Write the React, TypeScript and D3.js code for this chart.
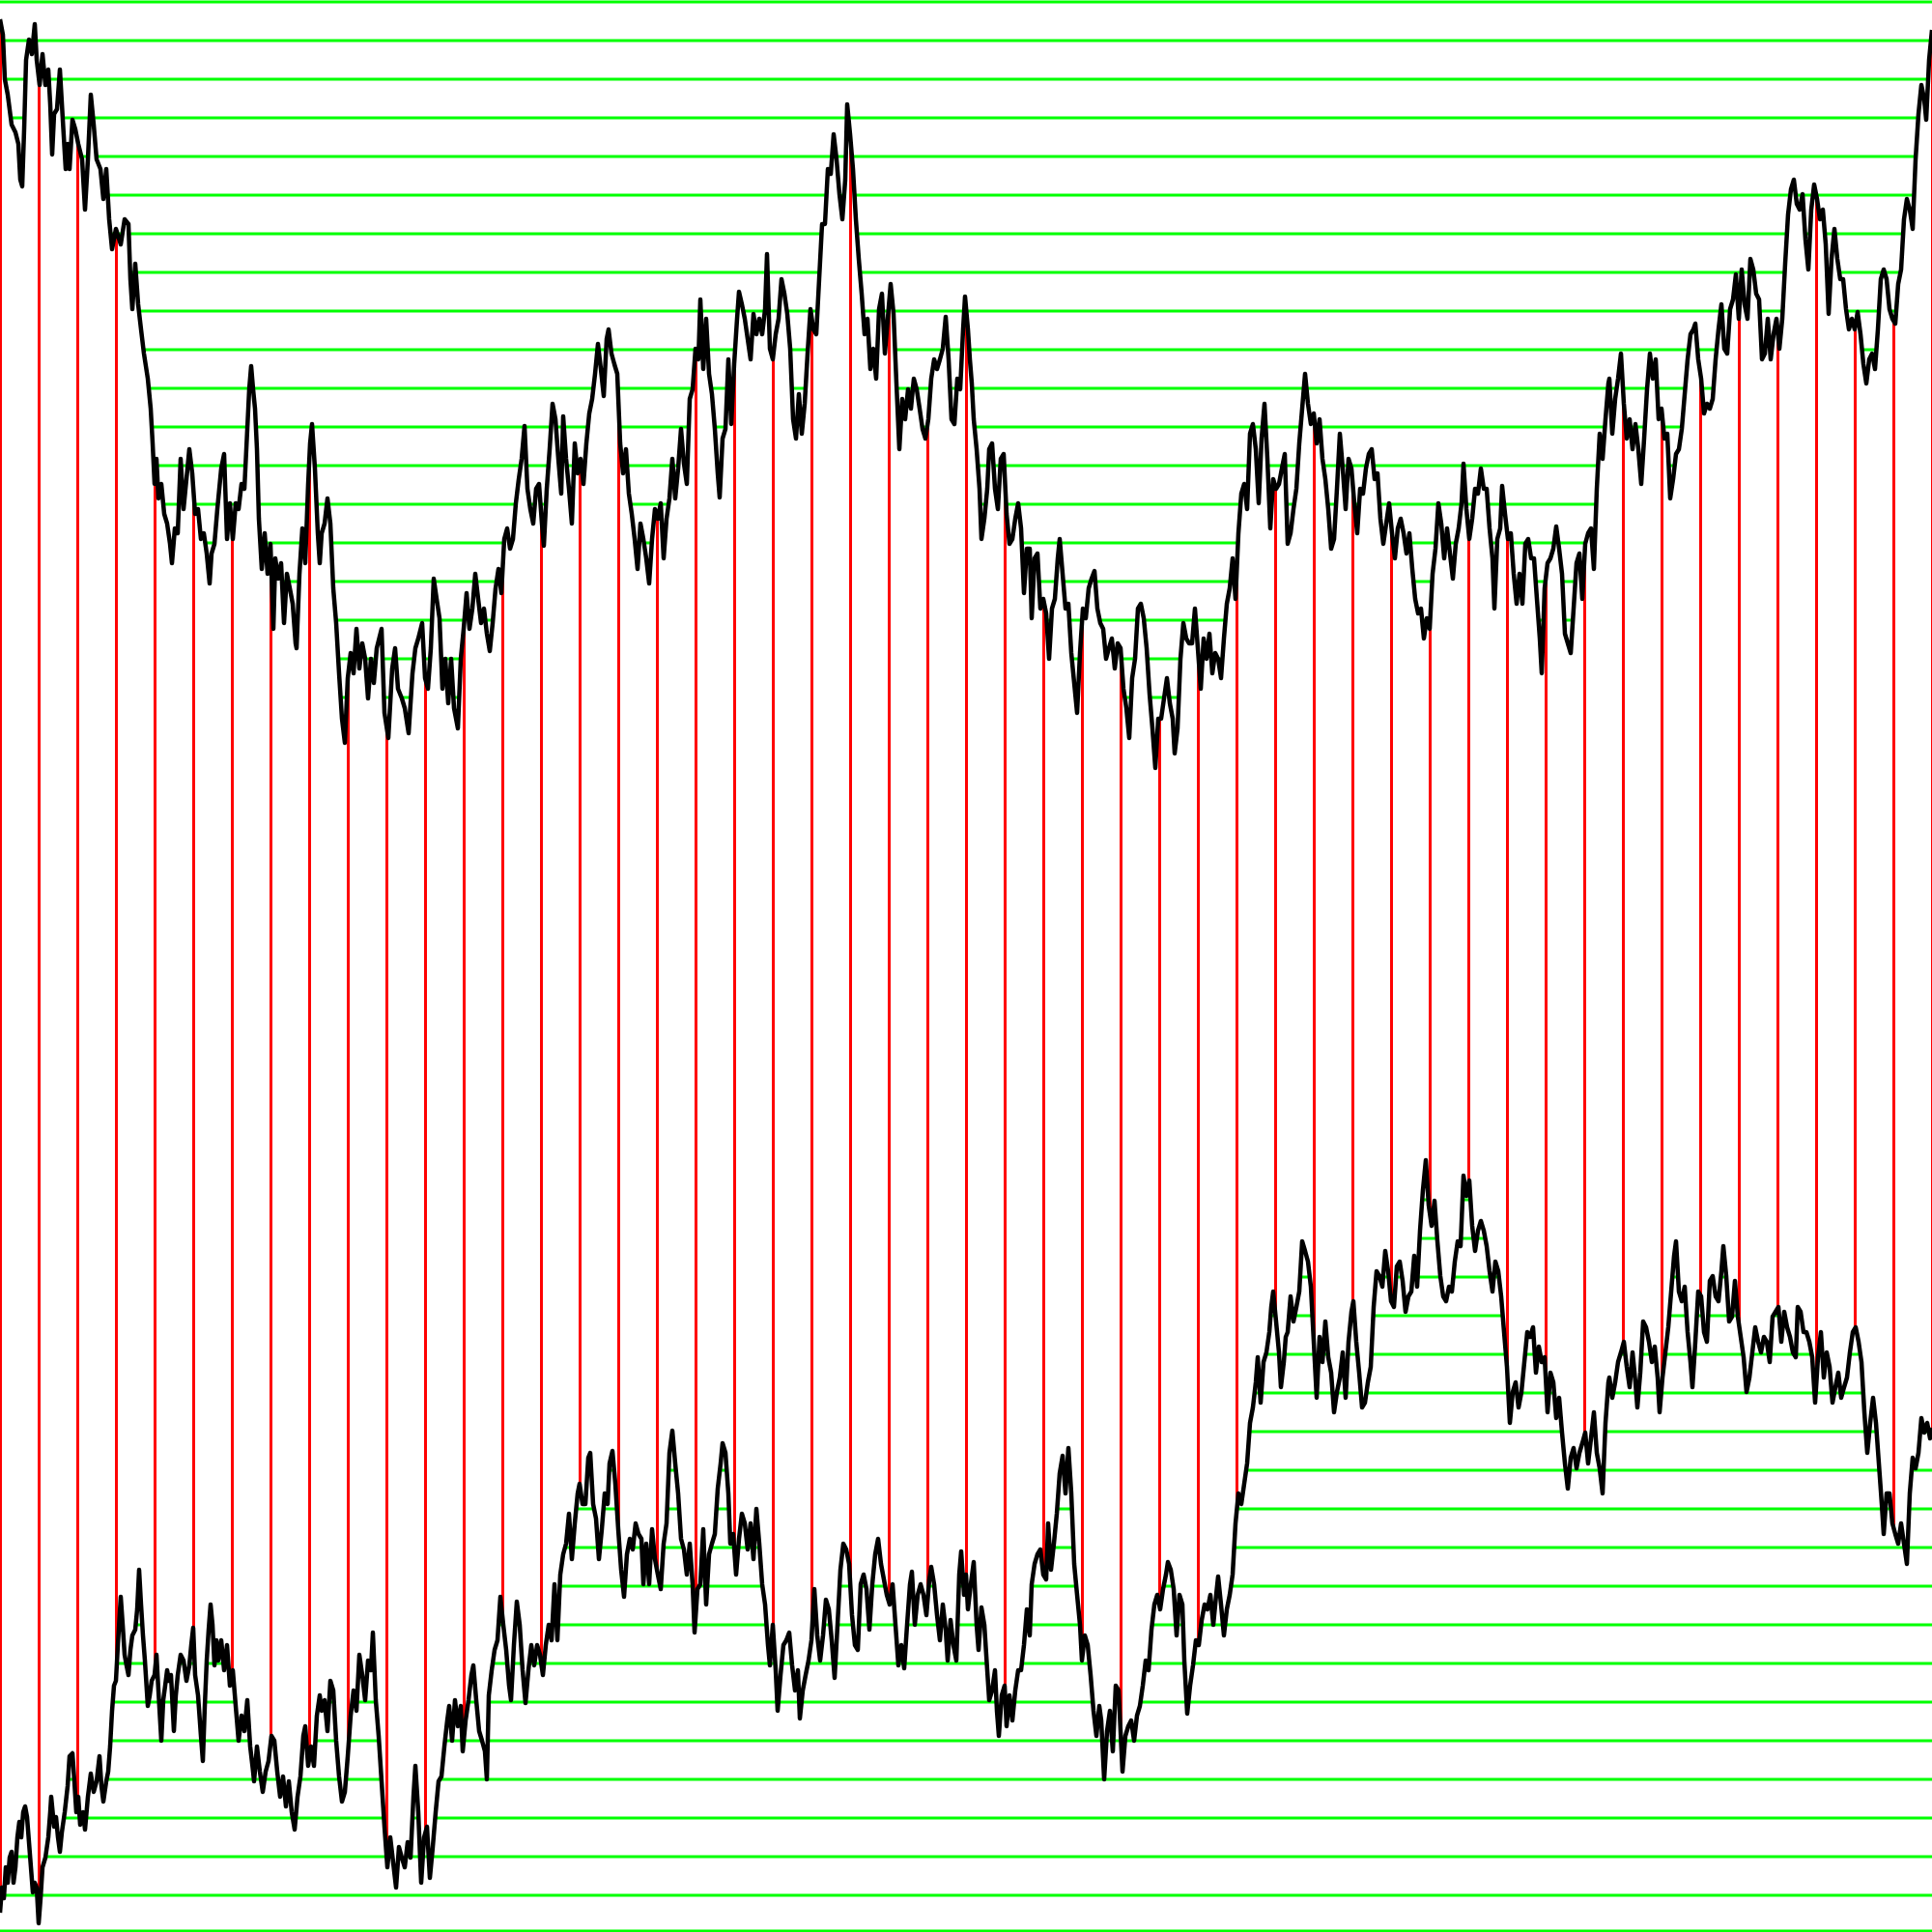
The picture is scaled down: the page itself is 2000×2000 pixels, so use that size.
import React from 'react';
import * as d3 from 'd3';

// Upper random-walk series: [x, y] in chart units (0..2000, y grows downward)
const upperSeries: [number, number][] = [
  [0,20],[3,36],[5,82],[8,98],[12,129],[16,137],[19,149],[21,186],[23,193],[25,134],[27,62],[30,41],[33,56],[36,25],[38,62],[41,88],[44,56],[47,88],[50,72],[52,108],[54,160],[56,118],[59,113],[62,72],[65,124],[68,175],[70,149],[72,175],[75,124],[78,134],[81,149],[85,165],[88,217],[91,165],[94,98],[97,129],[100,165],[104,175],[107,206],[110,175],[113,227],[116,258],[120,237],[125,253],[129,227],[133,232],[135,289],[137,320],[140,273],[143,315],[146,341],[149,366],[153,392],[156,423],[158,459],[160,501],[162,475],[164,516],[167,501],[170,532],[173,542],[176,563],[178,583],[181,547],[184,552],[187,475],[190,527],[193,496],[196,465],[199,490],[202,532],[205,527],[208,558],[211,552],[214,573],[217,604],[219,573],[222,563],[225,527],[229,485],[232,470],[235,558],[238,521],[241,558],[244,521],[247,527],[250,501],[253,506],[255,465],[258,403],[260,379],[262,403],[264,423],[266,465],[268,537],[271,589],[274,552],[277,594],[280,563],[283,651],[285,578],[288,599],[291,583],[294,645],[297,594],[300,609],[303,625],[306,666],[307,671],[310,594],[313,547],[316,583],[319,501],[321,459],[323,439],[326,485],[329,552],[331,583],[333,552],
  [336,542],[339,516],[342,542],[345,609],[348,645],[351,697],[354,744],[357,769],[360,702],[363,676],[366,697],[369,651],[372,692],[375,666],[378,682],[381,723],[384,682],[387,707],[390,671],[395,651],[398,738],[402,764],[406,692],[409,671],[412,713],[416,723],[419,733],[423,759],[427,697],[430,671],[433,661],[437,645],[440,702],[443,713],[446,671],[449,599],[452,620],[455,640],[458,713],[461,682],[464,728],[467,682],[470,733],[474,754],[477,682],[480,651],[483,614],[486,651],[489,630],[492,594],[495,620],[498,645],[501,630],[504,656],[507,674],[510,645],[513,609],[516,589],[519,614],[522,558],[525,547],[528,568],[531,558],[534,521],[537,496],[540,475],[543,441],[546,506],[549,527],[552,542],[555,506],[558,501],[561,542],[563,565],[566,506],[569,465],[572,418],[575,434],[578,475],[581,511],[583,431],[586,475],[589,506],[592,542],[595,459],[598,490],[601,475],[604,501],[607,459],[610,428],[613,413],[616,387],[619,356],[622,382],[625,410],[628,351],[630,341],[633,366],[636,377],[639,387],[642,459],[645,490],[648,465],[651,511],[654,532],[657,558],[660,589],[663,542],[666,558],
  [669,578],[672,604],[675,558],[678,527],[681,537],[684,521],[687,578],[690,537],[693,516],[696,475],[699,516],[702,485],[705,444],[708,480],[711,501],[714,413],[717,403],[720,361],[723,372],[725,310],[728,382],[731,330],[734,387],[737,408],[740,444],[743,490],[745,515],[748,454],[751,444],[754,372],[757,439],[760,377],[763,330],[765,302],[768,315],[771,330],[774,351],[777,372],[780,325],[783,346],[786,330],[789,346],[792,320],[794,263],[797,361],[800,372],[803,346],[806,330],[809,289],[812,304],[815,325],[818,361],[821,434],[824,454],[827,408],[830,449],[833,418],[836,366],[839,320],[842,341],[845,346],[848,289],[851,232],[854,232],[857,175],[860,180],[863,139],[866,165],[869,201],[872,227],[875,186],[877,108],[880,139],[883,175],[886,227],[889,268],[892,304],[895,346],[898,330],[901,382],[904,361],[907,392],[910,320],[913,304],[916,366],[919,330],[922,294],[925,325],[928,397],[931,465],[934,413],[937,434],[940,403],[943,423],[946,392],[949,403],[952,423],[955,444],[958,454],[961,434],[964,392],[967,372],[970,382],[973,372],[976,361],[979,328],[982,372],[985,434],[988,439],[991,392],[994,403],[997,341],[999,307],
  [1002,341],[1004,372],[1006,397],[1008,434],[1011,465],[1014,506],[1016,558],[1019,537],[1022,506],[1024,465],[1027,459],[1030,506],[1033,527],[1036,475],[1039,470],[1042,532],[1045,563],[1048,558],[1051,537],[1054,521],[1057,547],[1060,614],[1063,568],[1066,568],[1068,640],[1071,578],[1074,573],[1077,630],[1080,620],[1083,635],[1086,682],[1089,630],[1092,620],[1095,578],[1097,558],[1100,594],[1103,630],[1106,625],[1109,676],[1112,707],[1115,738],[1118,676],[1121,630],[1124,640],[1127,609],[1130,599],[1133,591],[1136,630],[1139,645],[1142,651],[1145,682],[1148,671],[1151,661],[1154,692],[1157,666],[1160,671],[1163,713],[1166,733],[1169,764],[1172,702],[1175,682],[1178,630],[1181,625],[1184,640],[1187,671],[1190,718],[1193,754],[1196,795],[1199,744],[1202,744],[1205,723],[1208,702],[1211,728],[1214,744],[1216,780],[1219,754],[1222,682],[1225,645],[1228,661],[1231,666],[1234,666],[1237,630],[1240,671],[1243,713],[1246,661],[1249,682],[1252,656],[1255,697],[1258,676],[1261,682],[1264,702],[1267,661],[1270,625],[1273,609],[1276,578],[1279,620],[1282,552],[1285,511],[1288,501],[1291,527],[1294,449],[1297,439],[1300,465],[1303,521],[1306,454],[1309,418],[1312,475],[1315,547],[1318,496],[1321,506],[1324,501],[1327,485],[1330,470],[1333,563],
  [1336,552],[1339,527],[1342,506],[1345,459],[1348,423],[1351,387],[1354,418],[1357,439],[1360,428],[1363,459],[1366,434],[1369,475],[1372,496],[1375,527],[1378,568],[1381,558],[1384,506],[1387,449],[1390,485],[1393,527],[1396,475],[1399,485],[1402,521],[1405,552],[1408,506],[1411,511],[1414,485],[1417,470],[1420,465],[1423,496],[1426,490],[1429,537],[1432,563],[1435,542],[1438,521],[1441,552],[1444,578],[1447,547],[1450,537],[1453,552],[1456,573],[1459,552],[1462,589],[1465,620],[1468,635],[1471,630],[1474,661],[1477,640],[1480,651],[1483,594],[1486,568],[1489,521],[1492,542],[1495,578],[1498,547],[1501,573],[1504,599],[1507,563],[1510,547],[1513,521],[1515,480],[1518,527],[1521,558],[1524,537],[1527,506],[1530,511],[1533,485],[1536,506],[1539,506],[1542,547],[1545,578],[1547,630],[1550,558],[1553,547],[1555,503],[1558,532],[1561,558],[1564,552],[1567,594],[1570,625],[1573,594],[1576,625],[1579,563],[1582,558],[1585,578],[1588,578],[1591,620],[1594,661],[1596,697],[1599,609],[1602,583],[1605,578],[1608,568],[1611,545],[1614,568],[1617,594],[1620,656],[1623,666],[1626,676],[1629,630],[1632,583],[1635,573],[1638,620],[1641,563],[1644,552],[1647,547],[1650,589],[1653,506],[1656,449],[1659,475],[1662,434],[1665,397],
  [1666,392],[1669,449],[1672,413],[1675,392],[1678,366],[1681,418],[1684,454],[1687,434],[1690,465],[1693,439],[1696,465],[1699,501],[1702,454],[1705,403],[1708,366],[1711,392],[1714,372],[1717,434],[1720,423],[1723,454],[1726,449],[1729,516],[1732,496],[1735,470],[1738,465],[1741,444],[1744,408],[1747,372],[1750,346],[1753,341],[1755,335],[1758,372],[1761,392],[1764,428],[1767,418],[1770,423],[1773,413],[1776,372],[1779,341],[1782,315],[1785,361],[1788,366],[1791,320],[1794,310],[1797,284],[1800,330],[1803,279],[1806,315],[1809,330],[1812,268],[1815,279],[1818,304],[1821,310],[1824,372],[1827,366],[1830,330],[1833,372],[1836,346],[1839,330],[1842,361],[1845,330],[1848,273],[1851,222],[1854,196],[1857,186],[1860,211],[1863,217],[1866,201],[1869,248],[1872,279],[1875,217],[1878,191],[1881,206],[1884,227],[1887,217],[1890,253],[1893,325],[1896,268],[1899,237],[1902,268],[1905,289],[1908,289],[1911,320],[1914,341],[1917,330],[1920,341],[1923,323],[1926,346],[1929,377],[1932,397],[1935,372],[1938,366],[1941,382],[1944,341],[1947,289],[1950,279],[1953,289],[1956,320],[1959,330],[1962,335],[1965,294],[1968,279],[1971,227],[1974,206],[1977,217],[1980,237],[1983,165],[1986,118],[1989,88],[1992,103],[1994,124],[1997,62],[2000,31]
];

// Lower random-walk series: [x, y]
const lowerSeries: [number, number][] = [
  [0,1980],[2,1954],[4,1965],[6,1933],[8,1949],[10,1923],[12,1917],[14,1949],[16,1933],[18,1902],[20,1886],[22,1902],[24,1876],[26,1870],[28,1881],[30,1907],[32,1933],[34,1959],[36,1949],[38,1954],[40,1991],[42,1965],[44,1933],[47,1923],[50,1902],[52,1876],[53,1860],[56,1891],[58,1881],[60,1902],[62,1917],[64,1897],[67,1876],[70,1849],[72,1818],[75,1815],[77,1844],[79,1876],[81,1860],[83,1889],[86,1876],[88,1894],[91,1860],[94,1836],[97,1855],[100,1844],[103,1818],[105,1849],[107,1865],[110,1844],[112,1834],[114,1808],[116,1771],[118,1745],[120,1740],[122,1703],[125,1653],[127,1682],[129,1713],[131,1724],[133,1734],[135,1708],[137,1693],[140,1687],[142,1666],[144,1625],[146,1661],[148,1693],[150,1719],[153,1766],[155,1755],[157,1740],[160,1734],[162,1713],[164,1750],[167,1802],[169,1760],[171,1745],[173,1729],[175,1740],[177,1734],[180,1792],[182,1755],[184,1734],[187,1713],[190,1719],[193,1740],[196,1724],[198,1703],[200,1685],[202,1734],[205,1755],[208,1797],[210,1823],[212,1766],[214,1719],[216,1687],[218,1661],[220,1682],[222,1724],[224,1698],[226,1719],[229,1698],[232,1729],[235,1703],[238,1745],[241,1729],[244,1766],[247,1802],[250,1776],[253,1792],[256,1760],[259,1808],[262,1834],[263,1844],[266,1808],[269,1834],[272,1855],[275,1834],[278,1823],[281,1797],[284,1802],[287,1834],[290,1860],[293,1839],[296,1870],[299,1844],[302,1876],[305,1894],[308,1860],[311,1839],[314,1797],[316,1787],[319,1828],[322,1808],[325,1828],[328,1776],[331,1755],[333,1771],
  [336,1760],[339,1792],[342,1740],[345,1750],[348,1802],[351,1839],[354,1865],[357,1855],[360,1818],[363,1776],[366,1750],[369,1771],[372,1713],[375,1734],[378,1760],[381,1719],[384,1729],[386,1690],[389,1760],[392,1797],[395,1844],[398,1891],[401,1933],[404,1902],[407,1928],[410,1954],[413,1912],[416,1923],[419,1933],[422,1907],[425,1923],[428,1860],[430,1828],[433,1876],[436,1949],[439,1902],[442,1891],[445,1944],[448,1912],[451,1876],[454,1844],[457,1839],[460,1808],[463,1781],[465,1766],[468,1802],[471,1760],[474,1787],[477,1766],[479,1813],[482,1781],[485,1760],[488,1734],[490,1724],[493,1760],[496,1792],[499,1802],[502,1813],[504,1842],[506,1755],[509,1729],[512,1708],[515,1698],[518,1653],[521,1682],[524,1708],[527,1745],[529,1760],[532,1703],[535,1658],[538,1682],[541,1729],[544,1763],[547,1729],[550,1703],[553,1724],[556,1703],[559,1713],[562,1734],[565,1703],[568,1682],[571,1698],[574,1640],[577,1698],[580,1630],[583,1609],[586,1598],[589,1567],[592,1614],[595,1577],[598,1546],[600,1536],[603,1557],[606,1557],[609,1509],[611,1504],[614,1557],[617,1572],[620,1614],[623,1583],[626,1546],[629,1557],[631,1515],[634,1502],[637,1536],[640,1583],[643,1625],[646,1653],[649,1609],[652,1593],[655,1604],[658,1577],[661,1588],[664,1593],[666,1640],
  [669,1598],[672,1640],[675,1583],[678,1614],[681,1630],[684,1645],[687,1598],[690,1577],[693,1504],[696,1481],[699,1515],[702,1546],[705,1593],[708,1604],[711,1630],[714,1598],[717,1640],[719,1690],[722,1645],[725,1640],[728,1583],[731,1661],[734,1609],[737,1598],[740,1588],[743,1541],[746,1515],[748,1494],[751,1504],[754,1546],[756,1598],[759,1588],[762,1630],[765,1593],[768,1567],[771,1577],[774,1604],[777,1577],[780,1614],[783,1562],[786,1598],[789,1640],[792,1661],[795,1703],[797,1724],[800,1682],[803,1729],[805,1771],[808,1734],[811,1703],[814,1698],[817,1690],[820,1724],[823,1750],[826,1729],[828,1779],[831,1750],[834,1734],[837,1719],[840,1698],[843,1645],[846,1693],[849,1719],[852,1693],[855,1656],[858,1666],[861,1698],[864,1737],[867,1682],[870,1625],[873,1598],[876,1604],[879,1619],[882,1672],[885,1703],[888,1708],[891,1640],[894,1630],[897,1645],[900,1687],[903,1640],[906,1609],[909,1593],[912,1619],[915,1635],[918,1651],[921,1661],[924,1640],[927,1682],[930,1724],[933,1703],[936,1727],[939,1682],[942,1640],[944,1627],[947,1682],[950,1651],[953,1640],[956,1651],[959,1672],[962,1635],[964,1622],[967,1640],[970,1672],[973,1698],[976,1661],[979,1687],[981,1719],[984,1677],[987,1703],[990,1719],[993,1630],[995,1606],[998,1651],
  [1000,1630],[1002,1666],[1005,1640],[1008,1617],[1011,1682],[1013,1708],[1016,1664],[1019,1682],[1022,1729],[1024,1760],[1027,1750],[1030,1729],[1032,1771],[1034,1797],[1037,1755],[1040,1745],[1042,1787],[1045,1755],[1048,1781],[1051,1750],[1054,1729],[1057,1729],[1060,1703],[1063,1666],[1066,1693],[1068,1640],[1071,1619],[1074,1609],[1077,1604],[1080,1630],[1083,1635],[1085,1577],[1088,1625],[1091,1598],[1094,1567],[1097,1525],[1100,1507],[1103,1546],[1106,1499],[1109,1546],[1112,1619],[1115,1651],[1118,1682],[1120,1719],[1123,1693],[1126,1703],[1129,1734],[1132,1771],[1135,1797],[1138,1766],[1140,1781],[1143,1842],[1146,1792],[1149,1771],[1152,1813],[1155,1745],[1158,1750],[1160,1792],[1162,1834],[1165,1797],[1168,1787],[1171,1781],[1174,1802],[1177,1776],[1180,1766],[1183,1745],[1186,1719],[1189,1729],[1192,1687],[1195,1661],[1198,1651],[1201,1666],[1204,1645],[1207,1630],[1209,1617],[1212,1625],[1215,1645],[1218,1693],[1221,1651],[1224,1661],[1226,1719],[1229,1774],[1232,1745],[1235,1724],[1238,1698],[1241,1703],[1244,1677],[1247,1661],[1250,1666],[1253,1651],[1256,1682],[1259,1651],[1261,1632],[1264,1661],[1267,1693],[1270,1666],[1273,1651],[1276,1630],[1279,1577],[1282,1546],[1285,1557],[1288,1536],[1291,1515],[1294,1473],[1297,1457],[1300,1431],[1302,1405],[1305,1452],[1308,1410],[1311,1400],[1314,1379],[1316,1353],[1318,1337],[1321,1368],[1324,1400],[1326,1436],[1329,1410],[1331,1384],
  [1333,1379],[1336,1342],[1339,1368],[1342,1353],[1345,1337],[1348,1285],[1351,1295],[1354,1306],[1357,1332],[1360,1389],[1363,1447],[1366,1384],[1369,1410],[1372,1368],[1375,1405],[1378,1421],[1381,1462],[1384,1441],[1387,1426],[1390,1400],[1393,1447],[1396,1389],[1399,1358],[1401,1347],[1404,1389],[1407,1421],[1410,1457],[1413,1452],[1416,1431],[1419,1415],[1422,1353],[1425,1316],[1428,1321],[1431,1332],[1434,1295],[1437,1316],[1440,1347],[1443,1353],[1446,1311],[1449,1306],[1452,1326],[1455,1358],[1458,1342],[1461,1337],[1464,1300],[1467,1332],[1470,1274],[1473,1232],[1476,1201],[1479,1248],[1482,1269],[1485,1243],[1488,1285],[1491,1321],[1494,1342],[1497,1347],[1500,1332],[1503,1337],[1506,1306],[1509,1285],[1512,1290],[1515,1217],[1518,1238],[1521,1222],[1524,1269],[1527,1295],[1530,1274],[1533,1264],[1536,1274],[1539,1290],[1542,1316],[1545,1337],[1548,1306],[1551,1316],[1554,1342],[1557,1379],[1560,1415],[1563,1473],[1566,1441],[1569,1431],[1572,1457],[1575,1441],[1578,1410],[1581,1379],[1584,1384],[1587,1374],[1590,1421],[1593,1394],[1596,1410],[1599,1405],[1602,1462],[1605,1421],[1608,1431],[1611,1468],[1614,1447],[1617,1483],[1620,1515],[1623,1541],[1626,1509],[1629,1499],[1632,1520],[1635,1504],[1638,1494],[1641,1483],[1644,1515],[1647,1489],[1650,1462],[1653,1504],[1656,1520],[1659,1546],[1662,1473],[1665,1431],
  [1666,1426],[1669,1447],[1672,1431],[1675,1410],[1678,1400],[1681,1389],[1684,1415],[1687,1436],[1690,1400],[1693,1431],[1695,1457],[1698,1421],[1701,1368],[1704,1374],[1707,1389],[1710,1410],[1713,1394],[1716,1426],[1718,1462],[1721,1426],[1724,1400],[1727,1374],[1730,1337],[1733,1300],[1735,1285],[1738,1337],[1741,1347],[1744,1332],[1747,1379],[1750,1410],[1752,1436],[1755,1389],[1758,1337],[1761,1342],[1764,1379],[1767,1389],[1770,1326],[1773,1321],[1776,1342],[1779,1347],[1782,1316],[1784,1290],[1787,1321],[1790,1368],[1793,1363],[1796,1326],[1799,1363],[1802,1384],[1805,1405],[1808,1441],[1811,1426],[1814,1400],[1817,1374],[1820,1389],[1823,1400],[1826,1384],[1829,1389],[1832,1410],[1835,1363],[1838,1358],[1841,1353],[1844,1389],[1847,1358],[1850,1374],[1853,1384],[1856,1400],[1859,1405],[1861,1353],[1864,1358],[1867,1379],[1870,1379],[1873,1389],[1876,1405],[1879,1452],[1882,1405],[1885,1379],[1888,1426],[1891,1400],[1894,1415],[1897,1452],[1900,1436],[1903,1421],[1906,1447],[1909,1436],[1912,1426],[1915,1400],[1918,1379],[1921,1374],[1924,1389],[1927,1410],[1930,1462],[1933,1504],[1936,1473],[1939,1447],[1942,1473],[1945,1515],[1948,1557],[1950,1588],[1953,1546],[1956,1546],[1959,1577],[1962,1588],[1965,1598],[1968,1577],[1971,1598],[1974,1619],[1977,1546],[1980,1509],[1983,1520],[1986,1504],[1989,1468],[1992,1483],[1995,1473],[1998,1489],[2000,1478]
];

// Grid positions (chart units)
const horizontalGrid: number[] = [...d3.range(2, 2000, 40), 1999];
const verticalGrid: number[] = d3.range(0, 2001, 40);

export default function App() {
  const W = 2000;
  const H = 2000;
  const x = d3.scaleLinear().domain([0, 2000]).range([0, W]);
  const y = d3.scaleLinear().domain([0, 2000]).range([0, H]);
  const line = d3.line<[number, number]>().x(d => x(d[0])).y(d => y(d[1]));
  const bandPath = (line([...upperSeries, ...lowerSeries.slice().reverse()]) || '') + 'Z';

  return (
    <svg
      width={W}
      height={H}
      viewBox={`0 0 ${W} ${H}`}
      style={{ position: 'absolute', left: 0, top: 0, display: 'block', background: '#ffffff' }}
    >
      <defs>
        <clipPath id="band-clip">
          <path d={bandPath} />
        </clipPath>
      </defs>
      <rect x={0} y={0} width={W} height={H} fill="#ffffff" />
      <g stroke="#00ff00" strokeWidth={3}>
        {horizontalGrid.map(v => (
          <line key={`h${v}`} x1={0} x2={W} y1={y(v)} y2={y(v)} />
        ))}
      </g>
      <path d={bandPath} fill="#ffffff" stroke="none" />
      <g clipPath="url(#band-clip)" stroke="#ff0000" strokeWidth={3}>
        {verticalGrid.map(v => (
          <line key={`v${v}`} x1={x(v) + 0.5} x2={x(v) + 0.5} y1={0} y2={H} />
        ))}
      </g>
      <path d={line(upperSeries) || ''} fill="none" stroke="#000000" strokeWidth={4.5} strokeLinejoin="round" />
      <path d={line(lowerSeries) || ''} fill="none" stroke="#000000" strokeWidth={4.5} strokeLinejoin="round" />
    </svg>
  );
}
